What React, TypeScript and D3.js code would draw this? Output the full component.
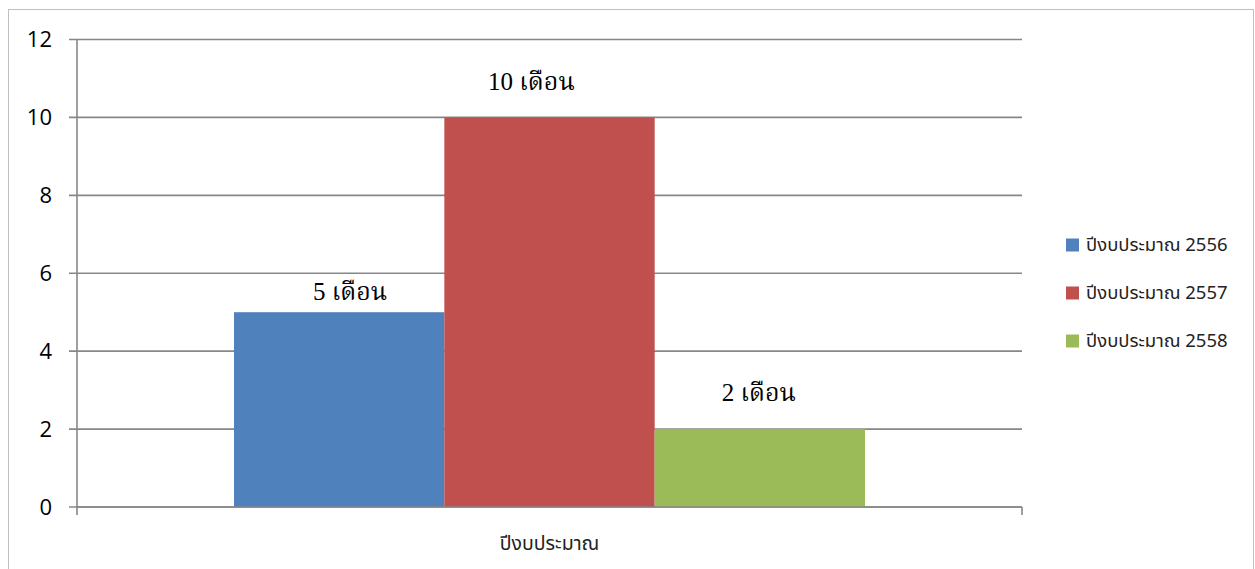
import React from "react";
import * as d3 from "d3";

const categories = ["ปีงบประมาณ"];
const seriesNames = ["ปีงบประมาณ 2556", "ปีงบประมาณ 2557", "ปีงบประมาณ 2558"];
const seriesValues = [5, 10, 2];
const dataLabels = ["5  เดือน", "10  เดือน", "2 เดือน"];
const labelOffsetsX = [11, -18, -1];
const labelOffsetsY = [-21, -36, -37];
const colors = ["#4F81BD", "#C0504D", "#9BBB59"];
const yTicks = [0, 2, 4, 6, 8, 10, 12];

const W = 1255;
const H = 569;
const plot = { left: 77, right: 1022, top: 39.5, bottom: 507 };

export default function App() {
  const y = d3.scaleLinear().domain([0, 12]).range([plot.bottom, plot.top]);
  const x0 = d3
    .scaleBand()
    .domain(categories)
    .range([plot.left, plot.right])
    .paddingInner(0)
    .paddingOuter(0);
  const groupW = x0.bandwidth() * (631 / 945);
  const x1 = d3
    .scaleBand()
    .domain(seriesNames)
    .range([0, groupW])
    .padding(0);
  const groupStart = (x0(categories[0]) as number) + (x0.bandwidth() - groupW) / 2;
  const grid = "#878787";
  const sans = "'Noto Sans Thai', 'Noto Sans', 'Open Sans', sans-serif";
  const serif = "'Liberation Serif', 'Noto Serif Thai', 'Times New Roman', serif";

  return (
    <svg
      width={W}
      height={H}
      style={{ position: "absolute", left: 0, top: 0, background: "#fff" }}
    >
      <rect x={8.5} y={9.5} width={1245} height={580} fill="#fff" stroke="#BFBFBF" strokeWidth={1} />
      {yTicks.map((t) => (
        <g key={t}>
          <line x1={69} x2={plot.right} y1={y(t)} y2={y(t)} stroke={grid} strokeWidth={1.6} />
          <text
            x={52}
            y={y(t)}
            dy="0.36em"
            textAnchor="end"
            fontFamily="'Open Sans', 'Noto Sans', sans-serif"
            fontSize={22}
            fill="#000"
          >
            {t}
          </text>
        </g>
      ))}
      <line x1={plot.left} x2={plot.left} y1={plot.top} y2={plot.bottom + 8} stroke={grid} strokeWidth={1.6} />
      <line x1={plot.right} x2={plot.right} y1={plot.bottom} y2={plot.bottom + 8} stroke={grid} strokeWidth={1.6} />
      {seriesNames.map((s, i) => {
        const bx = groupStart + (x1(s) as number);
        const bw = x1.bandwidth();
        return (
          <g key={s}>
            <rect
              x={bx}
              y={y(seriesValues[i])}
              width={bw}
              height={plot.bottom - y(seriesValues[i])}
              fill={colors[i]}
            />
            <text
              x={bx + bw / 2 + labelOffsetsX[i]}
              y={y(seriesValues[i]) + labelOffsetsY[i]}
              dy="0.35em"
              textAnchor="middle"
              fontFamily={serif}
              fontSize={25}
              fill="#000"
            >
              {dataLabels[i]}
            </text>
          </g>
        );
      })}
      <line x1={plot.left} x2={plot.right} y1={plot.bottom} y2={plot.bottom} stroke={grid} strokeWidth={1.6} />
      <text
        x={(x0(categories[0]) as number) + x0.bandwidth() / 2}
        y={543}
        dy="0.35em"
        textAnchor="middle"
        fontFamily={sans}
        fontSize={19.5}
        fill="#222"
      >
        {categories[0]}
      </text>
      {seriesNames.map((s, i) => (
        <g key={s} transform={`translate(1066, ${245 + i * 48})`}>
          <rect x={0} y={-6.5} width={13} height={13} fill={colors[i]} />
          <text x={20} y={0} dy="0.35em" fontFamily={sans} fontSize={18.5} fill="#222">
            {s}
          </text>
        </g>
      ))}
    </svg>
  );
}
